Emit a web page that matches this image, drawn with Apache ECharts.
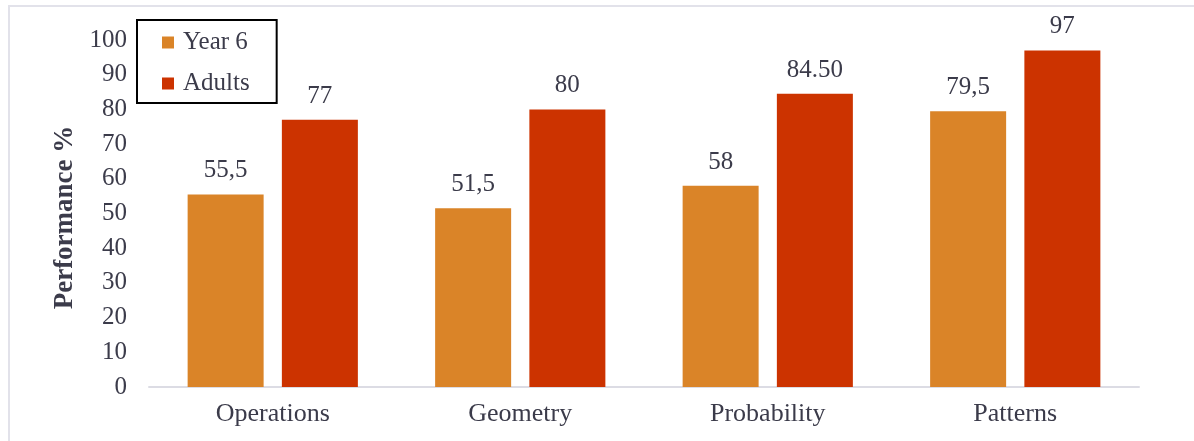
<!DOCTYPE html>
<html><head><meta charset="utf-8">
<script src="https://cdn.jsdelivr.net/npm/echarts@6/dist/echarts.min.js"></script>
<style>html,body{margin:0;padding:0;background:#fff}#c{width:1194px;height:441px}</style>
</head><body><div id="c"></div>
<script>
var categories = ['Operations', 'Geometry', 'Probability', 'Patterns'];
var year6 = [55.5, 51.5, 58, 79.5];
var adults = [77, 80, 84.5, 97];
var year6Labels = ['55,5', '51,5', '58', '79,5'];
var adultsLabels = ['77', '80', '84.50', '97'];
var yTicks = [0, 10, 20, 30, 40, 50, 60, 70, 80, 90, 100];

var font = '"Liberation Serif", "Times New Roman", serif';
var txt = '#3b3b4a';
var chart = echarts.init(document.getElementById('c'));
chart.setOption({
  animation: false,
  graphic: [{type: 'rect', shape: {x: 9, y: 6, width: 1200, height: 460}, style: {fill: 'none', stroke: '#e2e2ea', lineWidth: 2}, silent: true}],
  legend: {
    left: 137, top: 20, orient: 'vertical',
    itemWidth: 12, itemHeight: 12, itemGap: 16,
    padding: [10, 27, 7, 25],
    borderColor: '#000', borderWidth: 2,
    icon: 'rect',
    textStyle: {fontFamily: font, fontSize: 25, color: txt, padding: [0, 0, 0, 4]},
    data: ['Year 6', 'Adults']
  },
  grid: {left: 149, right: 55, top: 40, bottom: 54, containLabel: false},
  xAxis: {
    type: 'category', data: categories,
    axisLine: {lineStyle: {color: '#dcdce4', width: 2}},
    axisTick: {show: false},
    axisLabel: {fontFamily: font, fontSize: 26, color: txt, margin: 14}
  },
  yAxis: {
    type: 'value', min: 0, max: 100, interval: 10,
    name: 'Performance %', nameLocation: 'middle', nameGap: 70,
    nameTextStyle: {fontFamily: font, fontSize: 27, fontWeight: 'bold', color: txt, padding: [0, 8, 0, 0]},
    axisLine: {show: false}, axisTick: {show: false}, splitLine: {show: false},
    axisLabel: {fontFamily: font, fontSize: 25, color: txt, margin: 22,
      formatter: function (v) { return yTicks.indexOf(v) >= 0 ? String(v) : ''; }}
  },
  series: [
    {name: 'Year 6', type: 'bar', data: year6, barWidth: 76, barGap: '24%',
     itemStyle: {color: '#DA8428'},
     label: {show: true, position: 'top', distance: 11, fontFamily: font, fontSize: 25, color: txt,
       formatter: function (p) { return year6Labels[p.dataIndex]; }}},
    {name: 'Adults', type: 'bar', data: adults, barWidth: 76,
     itemStyle: {color: '#CC3300'},
     label: {show: true, position: 'top', distance: 11, fontFamily: font, fontSize: 25, color: txt,
       formatter: function (p) { return adultsLabels[p.dataIndex]; }}}
  ]
});
</script></body></html>
